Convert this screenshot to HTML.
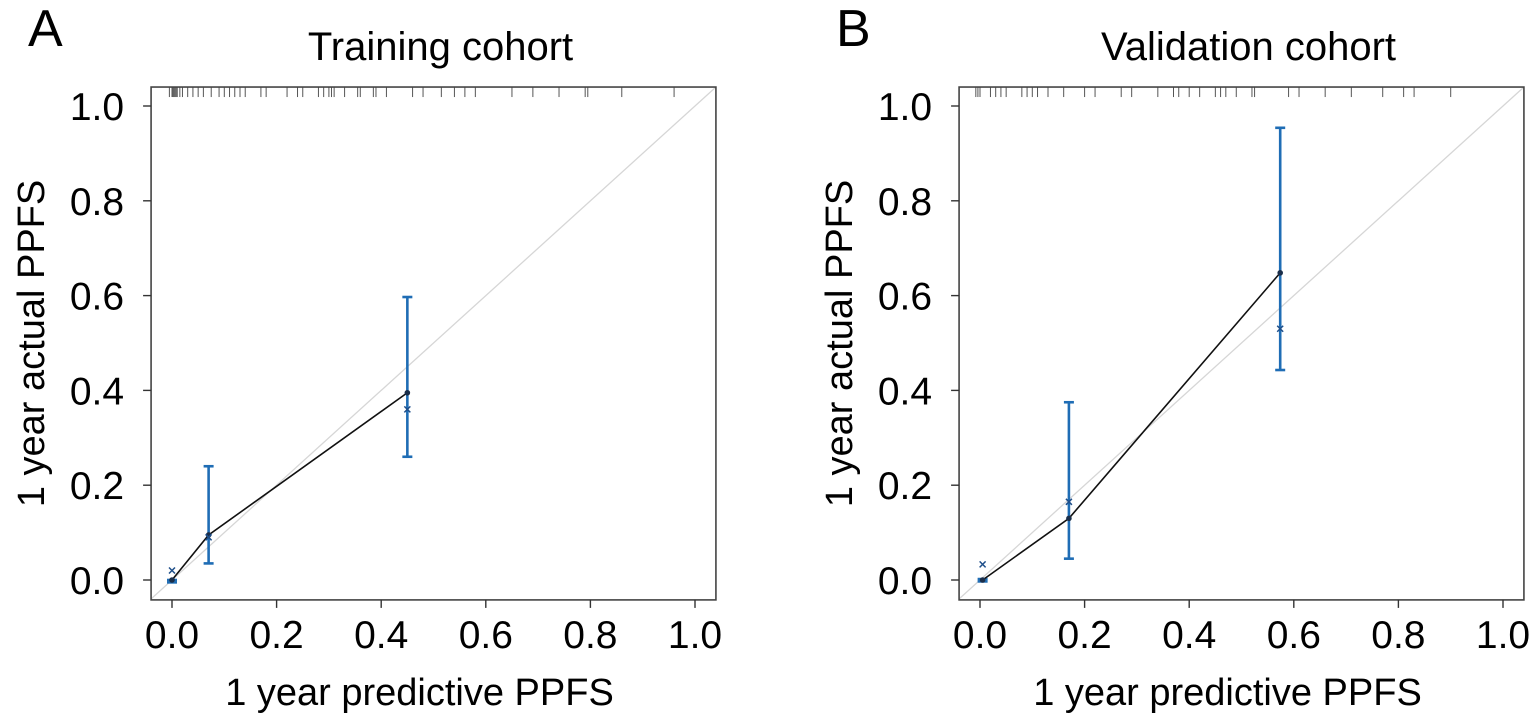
<!DOCTYPE html>
<html><head><meta charset="utf-8"><style>
html,body{margin:0;padding:0;background:#fff;}
svg{display:block;font-family:"Liberation Sans",Arial,sans-serif;}
</style></head><body>
<svg id="chart" width="1535" height="720" viewBox="0 0 1535 720"></svg>
<script>
// ---- data ----
const panelLetters = ["A", "B"];
const panelTitles = ["Training cohort", "Validation cohort"];
const tickValues = [0, 0.2, 0.4, 0.6, 0.8, 1.0];
const tickLabels = ["0.0", "0.2", "0.4", "0.6", "0.8", "1.0"];
// Panel A
const predA = [0.0, 0.07, 0.45];
const obsA = [0.0, 0.095, 0.395];
const corrA = [0.02, 0.09, 0.36];
const loA = [-0.005, 0.035, 0.26];
const hiA = [0.0, 0.24, 0.597];
const rugA = [-0.005,0,0.002,0.004,0.006,0.008,0.01,0.015,0.02,0.03,0.04,0.05,0.06,0.075,0.09,0.1,0.11,0.12,0.13,0.14,0.17,0.18,0.22,0.24,0.25,0.28,0.29,0.3,0.305,0.31,0.33,0.355,0.36,0.385,0.39,0.41,0.46,0.48,0.515,0.54,0.56,0.58,0.65,0.69,0.74,0.79,0.795,0.86,0.96];
// Panel B
const predB = [0.005, 0.17, 0.574];
const obsB = [0.0, 0.13, 0.648];
const corrB = [0.033, 0.165, 0.53];
const loB = [-0.003, 0.045, 0.443];
const hiB = [0.002, 0.375, 0.954];
const rugB = [-0.008,-0.004,0,0.02,0.03,0.04,0.05,0.08,0.09,0.1,0.11,0.13,0.16,0.2,0.22,0.27,0.29,0.34,0.37,0.38,0.4,0.42,0.45,0.46,0.47,0.49,0.52,0.525,0.59,0.61,0.66,0.71,0.77,0.81,0.83,0.9];

const NS = "http://www.w3.org/2000/svg";
const svg = document.getElementById("chart");
function mk(tag, attrs, parent, text){
  const e = document.createElementNS(NS, tag);
  for (const k in attrs) e.setAttribute(k, attrs[k]);
  if (text !== undefined) e.textContent = text;
  (parent || svg).appendChild(e);
  return e;
}
const BLUE = "#1f6db5";
const panels = [
  {off:0, pred:predA, obs:obsA, corr:corrA, lo:loA, hi:hiA, rug:rugA},
  {off:808, pred:predB, obs:obsB, corr:corrB, lo:loB, hi:hiB, rug:rugB}
];
panels.forEach((p, i) => {
  const g = mk("g", {});
  
  
  const X = v => 172 + p.off + v * 523;
  const Y = v => 580 - v * 474;
  const L = X(-0.04), R = X(1.04), T = Y(1.04), B = Y(-0.042);
  const clipId = "clip" + i;
  const cp = mk("clipPath", {id: clipId}, g);
  mk("rect", {x: L, y: T, width: R - L, height: B - T}, cp);

  const letter = mk("text", {x: 28 + p.off, y: 46, "font-size": 52}, g, panelLetters[i]);
  
  
  const title = mk("text", {x: (L + R) / 2 + 7, y: 60, "font-size": 40, "text-anchor": "middle"}, g, panelTitles[i]);
  
  

  // diagonal
  const diag = mk("line", {x1: X(-0.1), y1: Y(-0.1), x2: X(1.1), y2: Y(1.1), stroke: "#d6d6d6", "stroke-width": 1.3, "clip-path": "url(#" + clipId + ")"}, g);
  
  

  // rug
  const rg = mk("g", {stroke: "#555", "stroke-width": 1}, g);
  
  
  p.rug.forEach(v => {
    const t = mk("line", {x1: X(v), x2: X(v), y1: T, y2: T + 10}, rg);
    
    
  });

  // box
  const box = mk("rect", {x: L, y: T, width: R - L, height: B - T, fill: "none", stroke: "#444", "stroke-width": 1.6}, g);
  
  

  // ticks
  tickValues.forEach((v, k) => {
    const xt = mk("line", {x1: X(v), x2: X(v), y1: B, y2: B + 8, stroke: "#333", "stroke-width": 1.4}, g);
    
    
    const xl = mk("text", {x: X(v), y: 648, "font-size": 39, "text-anchor": "middle"}, g, tickLabels[k]);
    
    
    const yt = mk("line", {x1: L - 8, x2: L, y1: Y(v), y2: Y(v), stroke: "#333", "stroke-width": 1.4}, g);
    
    
    const yl = mk("text", {x: L - 27, y: Y(v) + 14, "font-size": 39, "text-anchor": "end"}, g, tickLabels[k]);
    
    
  });
  const xa = mk("text", {x: (L + R) / 2 - 14, y: 705, "font-size": 38, "text-anchor": "middle"}, g, "1 year predictive PPFS");
  
  
  const ya = mk("text", {x: 0, y: 0, "font-size": 38, "text-anchor": "middle", transform: "translate(" + (44 + p.off) + "," + ((T + B) / 2) + ") rotate(-90)"}, g, "1 year actual PPFS");
  
  

  // error bars
  p.pred.forEach((v, k) => {
    const eb = mk("g", {stroke: BLUE, "stroke-width": 2.6, fill: "none"}, g);
    
    
    mk("line", {x1: X(v), x2: X(v), y1: Y(p.lo[k]), y2: Y(p.hi[k])}, eb);
    mk("line", {x1: X(v) - 5, x2: X(v) + 5, y1: Y(p.lo[k]), y2: Y(p.lo[k])}, eb);
    mk("line", {x1: X(v) - 5, x2: X(v) + 5, y1: Y(p.hi[k]), y2: Y(p.hi[k])}, eb);
  });
  // calibration line
  const pts = p.pred.map((v, k) => X(v) + "," + Y(p.obs[k])).join(" ");
  const cl = mk("polyline", {points: pts, fill: "none", stroke: "#111", "stroke-width": 1.6}, g);
  
  
  p.pred.forEach((v, k) => {
    const c = mk("circle", {cx: X(v), cy: Y(p.obs[k]), r: 2.8, fill: "#1a2e4a"}, g);
    
    
    const cx = X(v), cy = Y(p.corr[k]);
    const xm = mk("path", {d: `M${cx-3},${cy-3}L${cx+3},${cy+3}M${cx-3},${cy+3}L${cx+3},${cy-3}`, stroke: "#1f4f8a", "stroke-width": 1.5}, g);
    
    
  });
});
</script>
</body></html>
